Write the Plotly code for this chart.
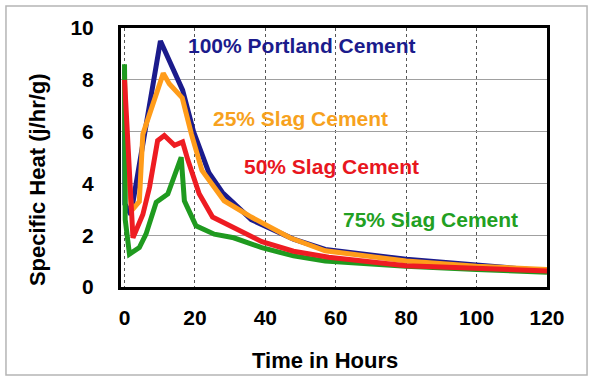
import plotly.graph_objects as go

# ---- data ----
x_portland = [0, 0.1, 1.8, 10.2, 16.5, 19.6, 24, 27.8, 36, 48, 57, 80, 120]
y_portland = [8.4, 3.2, 2.8, 9.5, 7.6, 6.0, 4.4, 3.65, 2.6, 1.85, 1.45, 1.07, 0.62]

x_slag25 = [0, 0.2, 2, 4.2, 5.2, 11, 12.7, 16.4, 19, 22, 28.3, 36, 47, 57, 80, 100, 120]
y_slag25 = [8.2, 6.0, 2.95, 3.3, 5.9, 8.25, 7.85, 7.3, 5.9, 4.5, 3.33, 2.7, 1.9, 1.4, 1.0, 0.8, 0.68]

x_slag50 = [0, 2.4, 5.2, 7.1, 9.4, 11.3, 14.2, 16.5, 18, 21.2, 25, 39, 48, 58, 80, 100, 120]
y_slag50 = [8.0, 1.9, 2.8, 3.85, 5.65, 5.85, 5.47, 5.6, 4.9, 3.6, 2.7, 1.75, 1.38, 1.15, 0.82, 0.7, 0.62]

x_slag75 = [0, 0.2, 1.4, 4.2, 6.1, 9, 12.3, 16.1, 17, 20.3, 25.5, 31, 39, 48, 57, 80, 100, 120]
y_slag75 = [8.6, 2.6, 1.27, 1.52, 2.04, 3.27, 3.59, 5.01, 3.33, 2.36, 2.04, 1.9, 1.52, 1.2, 1.0, 0.8, 0.68, 0.57]

series_names = ["100% Portland Cement", "25% Slag Cement", "50% Slag Cement", "75% Slag Cement"]
label_x = [50.3, 49.9, 58.8, 87]
label_y = [9.34, 6.5, 4.65, 2.6]

x_ticks = [0, 20, 40, 60, 80, 100, 120]
y_ticks = [0, 2, 4, 6, 8, 10]

# ---- styling ----
colors = ["#1b1b8c", "#ff9c1a", "#ee1c22", "#1f9a1f"]
text_colors = ["#1b1b8c", "#f7a21e", "#e8161e", "#22a022"]
FONT = "Liberation Sans, Arial, Helvetica, sans-serif"

fig = go.Figure()
data = [(x_portland, y_portland), (x_slag25, y_slag25), (x_slag50, y_slag50), (x_slag75, y_slag75)]
order = [0, 1, 3, 2]  # drawing order: blue, orange, green, red on top
for i in order:
    xs, ys = data[i]
    fig.add_trace(go.Scatter(x=xs, y=ys, mode="lines", name=series_names[i],
                             line=dict(color=colors[i], width=5, shape="linear"),
                             showlegend=False, hoverinfo="skip"))

for i in range(4):
    fig.add_annotation(x=label_x[i], y=label_y[i], xref="x", yref="y",
                       text=series_names[i], showarrow=False,
                       font=dict(family=FONT, size=21, color=text_colors[i], weight="bold"),
                       xanchor="center", yanchor="middle")

# axis titles
fig.add_annotation(x=-0.197, y=0.413, xref="paper", yref="paper",
                   text="Specific Heat (j/hr/g)", textangle=-90, showarrow=False,
                   font=dict(family=FONT, size=22, color="black", weight="bold"),
                   xanchor="center", yanchor="middle")
fig.add_annotation(x=0.479, y=-0.282, xref="paper", yref="paper",
                   text="Time in Hours", showarrow=False,
                   font=dict(family=FONT, size=22, color="black", weight="bold"),
                   xanchor="center", yanchor="middle")

# outer light frame
fig.add_shape(type="rect", xref="paper", yref="paper",
              x0=-0.27, x1=1.094, y0=-0.34, y1=1.085,
              line=dict(color="#b5b5b5", width=1.5), fillcolor="rgba(0,0,0,0)", layer="below")

fig.update_xaxes(range=[-1, 120], tickvals=x_ticks, ticktext=[str(v) for v in x_ticks],
                 showgrid=True, gridcolor="#555555", gridwidth=1, griddash="dot",
                 showline=True, linecolor="black", linewidth=3, mirror=True,
                 zeroline=False, ticks="", ticklabelstandoff=10,
                 tickfont=dict(family=FONT, size=21, color="black", weight="bold"))
fig.update_yaxes(range=[0, 10], tickvals=y_ticks, ticktext=[str(v) for v in y_ticks],
                 showgrid=True, gridcolor="#a0a0a0", gridwidth=1,
                 showline=True, linecolor="black", linewidth=3, mirror=True,
                 zeroline=False, ticks="", ticklabelstandoff=20,
                 tickfont=dict(family=FONT, size=21, color="black", weight="bold"))

fig.update_layout(width=590, height=379,
                  margin=dict(l=121, r=43, t=28, b=92, autoexpand=False),
                  paper_bgcolor="white", plot_bgcolor="white",
                  showlegend=False)

fig.write_html("out.html", config={"displayModeBar": False},
               post_script="document.body.style.margin='0';document.body.style.overflow='hidden';")
